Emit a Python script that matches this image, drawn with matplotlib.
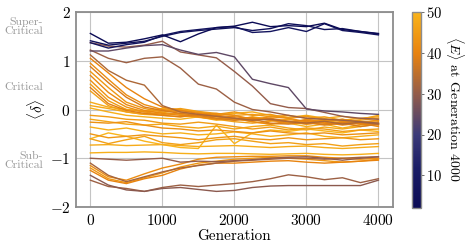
import numpy as np
import matplotlib
matplotlib.use("Agg")
import matplotlib.pyplot as plt
from matplotlib.colors import LinearSegmentedColormap, Normalize
from matplotlib.cm import ScalarMappable

plt.rcParams['font.family'] = 'serif'
plt.rcParams['font.serif'] = ['cmr10']
plt.rcParams['mathtext.fontset'] = 'cm'
plt.rcParams['axes.formatter.use_mathtext'] = True

# generations at which the curves were read
generations = np.arange(0, 4001, 250)

# <E> at generation 4000 (colour) for each trajectory
energy = [2, 5, 7,
          24, 30, 31, 33,
          40, 42, 38, 44, 41, 43, 45, 39, 46, 48, 47, 49,
          45, 47, 43, 49, 50, 44, 46, 48, 49,
          30, 32, 42, 44, 40,
          29, 31]

# mean <delta> trajectories
delta = [
    # super-critical (navy)
    [1.56, 1.36, 1.38, 1.45, 1.53, 1.39, 1.55, 1.68, 1.71, 1.79, 1.70, 1.72, 1.70, 1.77, 1.64, 1.60, 1.55],
    [1.41, 1.32, 1.36, 1.40, 1.50, 1.58, 1.62, 1.65, 1.68, 1.62, 1.66, 1.76, 1.72, 1.64, 1.66, 1.60, 1.56],
    [1.37, 1.26, 1.33, 1.38, 1.52, 1.60, 1.64, 1.68, 1.70, 1.58, 1.60, 1.68, 1.60, 1.76, 1.62, 1.58, 1.53],
    # slow decay (purple / brown)
    [1.20, 1.20, 1.26, 1.31, 1.33, 1.22, 1.13, 1.17, 1.08, 0.62, 0.53, 0.45, 0.01, -0.03, -0.05, -0.08, -0.10],
    [1.37, 1.30, 1.28, 1.32, 1.40, 1.18, 1.12, 1.06, 0.78, 0.48, 0.12, 0.04, 0.02, -0.06, -0.14, -0.18, -0.20],
    [1.22, 1.05, 0.96, 1.05, 1.08, 0.85, 0.52, 0.42, 0.15, 0.00, -0.05, -0.12, -0.18, -0.20, -0.22, -0.25, -0.28],
    [1.12, 0.80, 0.60, 0.50, 0.08, -0.05, -0.10, -0.14, -0.18, -0.22, -0.20, -0.25, -0.28, -0.24, -0.30, -0.26, -0.30],
    # fast decay (orange)
    [1.05, 0.75, 0.45, 0.22, 0.05, -0.02, -0.08, -0.12, -0.15, -0.18, -0.22, -0.25, -0.22, -0.28, -0.30, -0.28, -0.32],
    [0.95, 0.62, 0.30, 0.10, 0.00, -0.05, -0.10, -0.08, -0.12, -0.20, -0.15, -0.18, -0.25, -0.20, -0.22, -0.30, -0.25],
    [0.88, 0.55, 0.25, 0.05, -0.02, -0.08, -0.12, -0.18, -0.22, -0.20, -0.28, -0.30, -0.26, -0.32, -0.28, -0.35, -0.30],
    [0.78, 0.45, 0.15, 0.02, -0.05, -0.02, -0.06, -0.10, -0.05, -0.12, -0.10, -0.18, -0.14, -0.20, -0.25, -0.22, -0.18],
    [0.70, 0.35, 0.10, -0.02, -0.08, -0.12, -0.15, -0.20, -0.18, -0.25, -0.30, -0.24, -0.30, -0.26, -0.32, -0.28, -0.35],
    [0.60, 0.25, 0.05, -0.05, -0.10, -0.08, -0.12, -0.15, -0.20, -0.16, -0.22, -0.28, -0.20, -0.24, -0.20, -0.26, -0.22],
    [0.52, 0.18, 0.00, -0.05, -0.02, 0.02, -0.04, -0.08, -0.12, -0.10, -0.15, -0.12, -0.18, -0.15, -0.22, -0.18, -0.15],
    [0.45, 0.12, -0.02, -0.08, -0.12, -0.15, -0.10, -0.14, -0.18, -0.22, -0.18, -0.24, -0.28, -0.30, -0.26, -0.30, -0.28],
    [0.38, 0.08, -0.05, -0.10, -0.06, -0.10, -0.16, -0.20, -0.25, -0.28, -0.24, -0.20, -0.26, -0.22, -0.28, -0.25, -0.30],
    [0.15, 0.05, 0.00, -0.03, 0.02, 0.00, -0.05, -0.10, -0.08, -0.05, -0.12, -0.16, -0.12, -0.18, -0.14, -0.20, -0.12],
    [0.08, 0.02, -0.05, -0.10, -0.12, -0.15, -0.12, -0.18, -0.22, -0.15, -0.20, -0.26, -0.30, -0.25, -0.20, -0.28, -0.22],
    [0.03, -0.05, -0.12, -0.15, -0.18, -0.20, -0.15, -0.22, -0.18, -0.25, -0.30, -0.28, -0.35, -0.30, -0.38, -0.32, -0.28],
    # critical band (orange / yellow)
    [-0.12, -0.15, -0.20, -0.22, -0.28, -0.30, -0.26, -0.30, -0.35, -0.40, -0.36, -0.42, -0.38, -0.40, -0.45, -0.42, -0.40],
    [-0.20, -0.25, -0.30, -0.32, -0.30, -0.35, -0.38, -0.34, -0.40, -0.35, -0.32, -0.38, -0.42, -0.36, -0.40, -0.35, -0.30],
    [-0.26, -0.28, -0.25, -0.32, -0.38, -0.40, -0.44, -0.42, -0.45, -0.48, -0.44, -0.48, -0.50, -0.48, -0.52, -0.50, -0.48],
    [-0.36, -0.42, -0.38, -0.45, -0.50, -0.48, -0.52, -0.50, -0.46, -0.50, -0.55, -0.52, -0.48, -0.55, -0.58, -0.55, -0.52],
    [-0.60, -0.48, -0.55, -0.65, -0.72, -0.78, -0.80, -0.32, -0.70, -0.48, -0.42, -0.45, -0.40, -0.44, -0.48, -0.42, -0.45],
    [-0.50, -0.58, -0.55, -0.52, -0.55, -0.58, -0.62, -0.58, -0.55, -0.60, -0.62, -0.58, -0.62, -0.60, -0.58, -0.62, -0.60],
    [-0.60, -0.70, -0.62, -0.55, -0.68, -0.72, -0.68, -0.62, -0.60, -0.65, -0.70, -0.68, -0.72, -0.70, -0.75, -0.72, -0.70],
    [-0.73, -0.72, -0.74, -0.73, -0.72, -0.74, -0.76, -0.75, -0.74, -0.76, -0.78, -0.76, -0.75, -0.78, -0.80, -0.78, -0.76],
    [-0.89, -0.88, -0.88, -0.87, -0.88, -0.90, -0.91, -0.90, -0.90, -0.91, -0.92, -0.91, -0.90, -0.92, -0.93, -0.92, -0.90],
    # sub-critical
    [-1.00, -1.02, -1.04, -1.02, -1.00, -1.08, -1.06, -1.07, -1.05, -1.03, -1.00, -0.98, -0.97, -1.00, -1.04, -1.00, -0.97],
    [-1.10, -1.35, -1.48, -1.38, -1.28, -1.20, -1.15, -1.10, -1.06, -1.04, -1.02, -1.00, -1.00, -1.02, -1.00, -0.98, -0.97],
    [-1.15, -1.38, -1.45, -1.32, -1.20, -1.12, -1.02, -0.98, -0.97, -0.96, -0.96, -0.95, -0.95, -0.98, -1.00, -1.02, -1.00],
    [-1.20, -1.42, -1.50, -1.40, -1.30, -1.18, -1.10, -1.06, -1.02, -1.00, -0.98, -1.00, -1.02, -1.05, -1.08, -1.06, -1.02],
    [-1.25, -1.45, -1.52, -1.42, -1.35, -1.22, -1.14, -1.10, -1.10, -1.08, -1.06, -1.05, -1.08, -1.10, -1.08, -1.06, -1.04],
    [-1.35, -1.55, -1.65, -1.68, -1.62, -1.60, -1.64, -1.68, -1.66, -1.60, -1.57, -1.56, -1.56, -1.56, -1.56, -1.56, -1.45],
    [-1.45, -1.58, -1.62, -1.68, -1.60, -1.55, -1.58, -1.55, -1.52, -1.48, -1.42, -1.34, -1.38, -1.44, -1.40, -1.50, -1.42],
]

regimes = ["Super-\nCritical", "Critical", "Sub-\nCritical"]
regime_y = [1.7, 0.45, -1.05]

cmap = LinearSegmentedColormap.from_list(
    "energy",
    [(0.0, "#0b0b55"), (0.2, "#1a1d66"), (0.375, "#3b3a78"),
     (0.583, "#935c4a"), (0.79, "#e8820e"), (1.0, "#f9b41b")])
norm = Normalize(vmin=2, vmax=50)

fig = plt.figure(figsize=(4.66, 2.5), dpi=100)
ax = fig.add_axes([0.163, 0.172, 0.68, 0.78])
cax = fig.add_axes([0.884, 0.168, 0.019, 0.784])

# draw high-energy curves first so the navy ones sit on top
order = np.argsort(energy)[::-1]
for i in order:
    ax.plot(generations, delta[i], color=cmap(norm(energy[i])), lw=1.0)

ax.set_ylim(-2, 2)
ax.set_xticks([0, 1000, 2000, 3000, 4000])
ax.set_yticks([-2, -1, 0, 1, 2])
ax.grid(True, color="#c4c4c4", lw=0.8)
ax.set_axisbelow(True)
ax.tick_params(length=0, labelsize=11, pad=4)
for sp in ax.spines.values():
    sp.set_color("#8c8c8c")
    sp.set_linewidth(1.3)
ax.set_xlabel("Generation", fontsize=11, labelpad=1)
ax.set_ylabel(r"$\langle \delta \rangle$", fontsize=11, labelpad=2)

for label, yv in zip(regimes, regime_y):
    ax.text(-0.105, yv, label, transform=ax.get_yaxis_transform(),
            ha="right", va="center", color="#9a9a9a", fontsize=8.5,
            multialignment="right", linespacing=1.0)

cb = fig.colorbar(ScalarMappable(norm=norm, cmap=cmap), cax=cax)
cb.set_ticks([10, 20, 30, 40, 50])
cb.ax.tick_params(labelsize=10.5, length=2.5, width=0.6, color="#555555", pad=1.5)
cb.outline.set_edgecolor("#8c8c8c")
cb.outline.set_linewidth(1.0)
fig.text(0.976, 0.564, r"$\langle E \rangle$ at Generation 4000", rotation=270,
         fontsize=10, ha="center", va="center")

fig.savefig("out.png", dpi=100)
